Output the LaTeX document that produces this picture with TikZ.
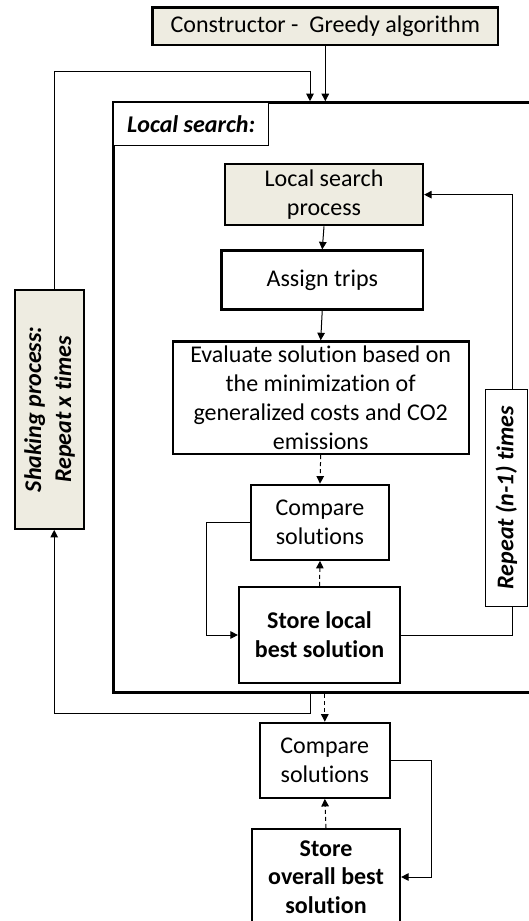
\documentclass[tikz,border=0pt]{standalone}
\usepackage{fontspec}
\setmainfont{Carlito}[Ligatures={NoCommon}]
\usetikzlibrary{arrows.meta,calc}
\definecolor{tan}{HTML}{EEECE1}
\tikzset{
  box/.style={draw, line width=2.2pt, align=center, inner sep=0pt, font=\fontsize{24}{29}\selectfont},
  tanbox/.style={box, fill=tan},
  thinbox/.style={draw, line width=1pt, align=center, inner sep=0pt, font=\fontsize{24}{29}\selectfont},
  conn/.style={line width=1pt, -{Triangle[length=7.5pt,width=7.5pt]}},
  dconn/.style={conn, dash pattern=on 4pt off 3pt},
  plain/.style={line width=1pt}
}
\begin{document}
\begin{tikzpicture}[x=1pt,y=-1pt]
\useasboundingbox (0,0) rectangle (528,921);
% containers
\node[draw, line width=3pt, minimum width=431.2pt, minimum height=590.1pt, inner sep=0pt] (ls) at (329.4,397.75) {};
\node[thinbox, minimum width=154.9pt, minimum height=42.8pt, fill=white, font=\fontsize{24}{29}\selectfont\bfseries\itshape] (lbl) at (191.25,124.1) {Local search:};
% nodes
\node[tanbox, minimum width=345.5pt, minimum height=37.4pt] (cons) at (325.3,26.1) {Constructor -\ \ Greedy algorithm};
\node[tanbox, minimum width=198pt, minimum height=61.3pt] (lsp) at (324,194.65) {Local search\\process};
\node[box, minimum width=201.5pt, minimum height=58.9pt] (assign) at (322.25,279.95) {Assign trips};
\node[box, minimum width=296pt, minimum height=112.6pt] (eval) at (320.7,397.7) {Evaluate solution based on\\the minimization of\\generalized costs and CO2\\emissions};
\node[box, minimum width=138pt, minimum height=75.1pt] (cmp1) at (320,522.25) {Compare\\solutions};
\node[box, minimum width=161pt, minimum height=96pt, font=\fontsize{24}{29}\selectfont\bfseries] (store1) at (319.5,635) {Store local\\best solution};
\node[thinbox, rotate=90, minimum width=217.6pt, minimum height=42pt, fill=white, font=\fontsize{24}{29}\selectfont\bfseries\itshape] (rep) at (506.3,497.8) {Repeat (n-1) times};
\node[tanbox, rotate=90, minimum width=238.8pt, minimum height=69.4pt, font=\fontsize{24}{30}\selectfont\bfseries\itshape] (shake) at (49.5,409.4) {Shaking process:\\Repeat x times};
\node[box, minimum width=130.4pt, minimum height=75pt] (cmp2) at (324.8,760.3) {Compare\\solutions};
\node[box, minimum width=148pt, minimum height=96pt, font=\fontsize{24}{28.6}\selectfont\bfseries] (store2) at (326,877) {Store\\overall best\\solution};
% helper coordinates
\coordinate (L) at (54.2,71.7);
\coordinate (Lb) at (54.2,713);
\coordinate (T) at (310,102.7);
\coordinate (R) at (512.5,0);
% connectors
\draw[conn] (cons.south) -- (cons.south |- ls.north);
\draw[conn] (shake.east -| L) -- (L) -| (ls.north -| T);
\draw[conn] (ls.south -| T) |- (Lb) -- (shake.west -| L);
\draw[dconn] (cmp2.north |- ls.south) -- (cmp2.north);
\draw[conn] (cmp2.east) -- ++(40.3,0) |- (store2.east);
\draw[dconn] (store2.north) -- (cmp2.south);
\draw[conn] (lsp.south) -- (assign.north);
\draw[conn] (assign.south) -- (eval.north);
\draw[dconn] (eval.south) -- (cmp1.north);
\draw[dconn] (store1.north) -- (cmp1.south);
\draw[conn] (cmp1.west) -- ++(-43,0) |- (store1.west);
\draw[plain] (store1.east) -| (rep.west -| R);
\draw[conn] (rep.east -| R) |- (lsp.east);
\end{tikzpicture}
\end{document}
